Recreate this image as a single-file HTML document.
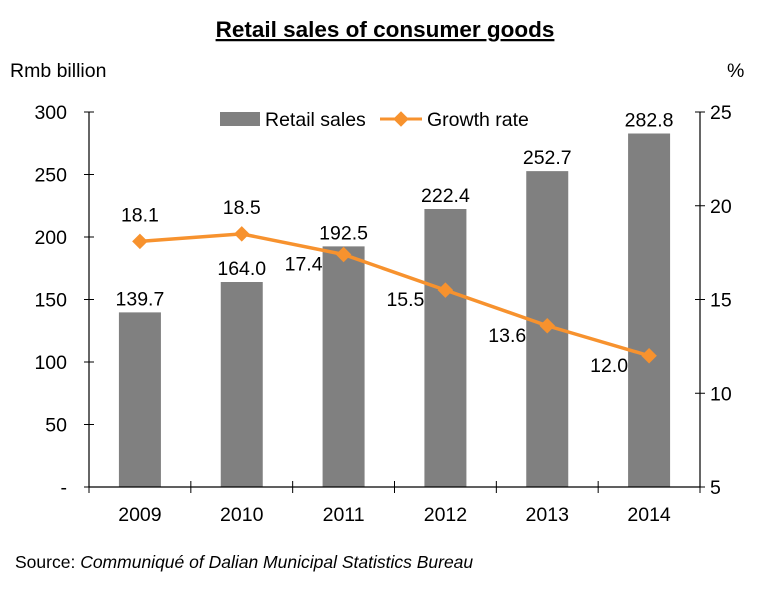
<!DOCTYPE html>
<html><head><meta charset="utf-8"><style>
body{margin:0;background:#fff;width:769px;height:591px;overflow:hidden;font-family:"Liberation Sans",Arial,sans-serif}
</style></head><body>
<svg id="chart" width="769" height="591" xmlns="http://www.w3.org/2000/svg" font-family="Liberation Sans, Arial, sans-serif">
<text x="385" y="37" text-anchor="middle" font-size="22.5" font-weight="bold" text-decoration="underline">Retail sales of consumer goods</text>
<text x="10" y="77" font-size="19.5">Rmb billion</text>
<text x="727" y="77" font-size="19.5">%</text>
<g id="legend">
<rect x="220" y="112" width="40" height="14" fill="#808080"/>
<text x="265" y="126" font-size="19.5">Retail sales</text>
<line x1="380" y1="119" x2="422" y2="119" stroke="#F7922E" stroke-width="3"/>
<rect x="395.5" y="113.5" width="11" height="11" fill="#F7922E" transform="rotate(45 401 119)"/>
<text x="427" y="126" font-size="19.5">Growth rate</text>
</g>
<g id="plot"></g>
<text x="15" y="568" font-size="17.5">Source: <tspan font-style="italic">Communiqué of Dalian Municipal Statistics Bureau</tspan></text>
</svg>
<script>
const categories=["2009","2010","2011","2012","2013","2014"];
const sales=[139.7,164.0,192.5,222.4,252.7,282.8];
const growth=[18.1,18.5,17.4,15.5,13.6,12.0];
const leftTicks=[0,50,100,150,200,250,300];
const leftTickLabels=["-","50","100","150","200","250","300"];
const rightTicks=[5,10,15,20,25];
const X0=89,X1=700,Y0=487,Y1=112;
const bw=(X1-X0)/categories.length;
const xc=i=>X0+bw*(i+0.5);
const yL=v=>Y0-(v/300)*(Y0-Y1);
const yR=v=>Y0-((v-5)/20)*(Y0-Y1);
const g=document.getElementById('plot');
const NS="http://www.w3.org/2000/svg";
const FS='19.5';
function mk(t,a){const e=document.createElementNS(NS,t);for(const k in a)e.setAttribute(k,a[k]);g.appendChild(e);return e;}
sales.forEach((v,i)=>{
 const r=mk('rect',{x:xc(i)-21,y:yL(v),width:42,height:Y0-yL(v),fill:'#808080'});
 
 
 const t=mk('text',{x:xc(i),y:yL(v)-7,'text-anchor':'middle','font-size':FS});t.textContent=v.toFixed(1);
 
 
 const c=mk('text',{x:xc(i),y:521,'text-anchor':'middle','font-size':FS});c.textContent=categories[i];
 
 
});
let ax=mk('line',{x1:X0,y1:Y0,x2:X1,y2:Y0,stroke:'#000','stroke-width':1.2});


ax=mk('line',{x1:X0,y1:Y1,x2:X0,y2:Y0,stroke:'#000','stroke-width':1.2});


ax=mk('line',{x1:X1,y1:Y1,x2:X1,y2:Y0,stroke:'#000','stroke-width':1.2});


for(let i=0;i<=categories.length;i++){const x=X0+bw*i;const l=mk('line',{x1:x,y1:Y0-6,x2:x,y2:Y0+6,stroke:'#000'});
 
 }
leftTicks.forEach((v,i)=>{const y=yL(v);const l=mk('line',{x1:X0-5,y1:y,x2:X0+5,y2:y,stroke:'#000'});
 
 
 const t=mk('text',{x:67,y:y+7,'text-anchor':'end','font-size':FS});t.textContent=leftTickLabels[i];
 
 });
rightTicks.forEach(v=>{const y=yR(v);const l=mk('line',{x1:X1-5,y1:y,x2:X1+5,y2:y,stroke:'#000'});
 
 
 const t=mk('text',{x:710,y:y+7,'font-size':FS});t.textContent=v;
 
 });
const pl=mk('polyline',{points:growth.map((v,i)=>xc(i)+','+yR(v)).join(' '),fill:'none',stroke:'#F7922E','stroke-width':3.5});


growth.forEach((v,i)=>{const x=xc(i),y=yR(v);
 const m=mk('rect',{x:x-5.5,y:y-5.5,width:11,height:11,fill:'#F7922E',transform:`rotate(45 ${x} ${y})`});
 
 
 const above=i<2;
 const t=mk('text',{x:above?x:x-40,y:above?y-20:y+16,'text-anchor':'middle','font-size':FS});t.textContent=v.toFixed(1);
 
 });
</script>
</body></html>
